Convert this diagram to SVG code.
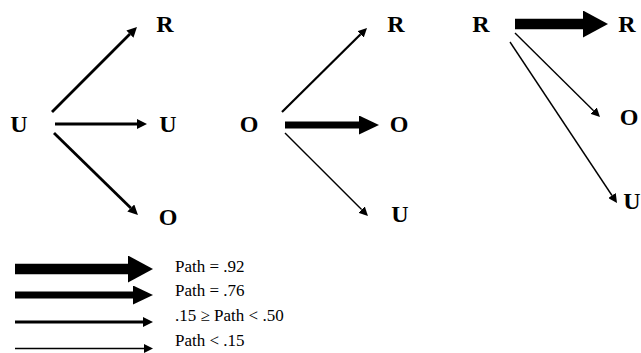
<svg xmlns="http://www.w3.org/2000/svg" width="641" height="353" viewBox="0 0 641 353">
<style>
.n{font-family:"Liberation Serif","Times New Roman",serif;font-weight:bold;font-size:24px;fill:#000;text-anchor:middle}
.lg{font-family:"Liberation Serif","Times New Roman",serif;font-size:17px;fill:#000}
.c{stroke:#000;fill:none}
.w1{stroke-width:1.4}
.w2{stroke-width:2.8}
.w3{stroke-width:7}
.w4{stroke-width:10.5}
</style>
<defs>
<marker id="h1" markerUnits="userSpaceOnUse" markerWidth="9" markerHeight="9" refX="0" refY="4.5" orient="auto"><path d="M0,0 L9,4.5 L0,9 Z" fill="#000"/></marker>
<marker id="h2" markerUnits="userSpaceOnUse" markerWidth="10" markerHeight="10" refX="0" refY="5" orient="auto"><path d="M0,0 L10,5 L0,10 Z" fill="#000"/></marker>
<marker id="h3" markerUnits="userSpaceOnUse" markerWidth="20" markerHeight="19" refX="0" refY="9.5" orient="auto"><path d="M0,0 L20,9.5 L0,19 Z" fill="#000"/></marker>
<marker id="h4" markerUnits="userSpaceOnUse" markerWidth="25" markerHeight="27" refX="0" refY="13.5" orient="auto"><path d="M0,0 L25,13.5 L0,27 Z" fill="#000"/></marker>
</defs>
<rect width="641" height="353" fill="#fff"/>
<g id="nodes">
<g id="n-u-src"><text class="n" x="19" y="132">U</text></g>
<g id="n-u-r"><text class="n" x="165" y="32">R</text></g>
<g id="n-u-u"><text class="n" x="168" y="132">U</text></g>
<g id="n-u-o"><text class="n" x="168" y="225">O</text></g>
<g id="n-o-src"><text class="n" x="249" y="132">O</text></g>
<g id="n-o-r"><text class="n" x="396" y="32">R</text></g>
<g id="n-o-o"><text class="n" x="399" y="132">O</text></g>
<g id="n-o-u"><text class="n" x="400" y="222">U</text></g>
<g id="n-r-src"><text class="n" x="481" y="32">R</text></g>
<g id="n-r-r"><text class="n" x="627" y="32">R</text></g>
<g id="n-r-o"><text class="n" x="629" y="125">O</text></g>
<g id="n-r-u"><text class="n" x="632" y="209">U</text></g>
</g>
<g id="connectors">
<line class="c w2" x1="52" y1="112" x2="129.9" y2="34.1" marker-end="url(#h2)"/>
<line class="c w2" x1="55" y1="124" x2="137" y2="124" marker-end="url(#h2)"/>
<line class="c w2" x1="54" y1="133" x2="130.8" y2="208" marker-end="url(#h2)"/>
<line class="c w2" x1="282" y1="112" x2="360.6" y2="34.3" marker-end="url(#h1)" style="stroke-width:2.2"/>
<line class="c w3" x1="285" y1="125" x2="359" y2="125" marker-end="url(#h3)"/>
<line class="c w1" x1="285" y1="133" x2="361.6" y2="209.6" marker-end="url(#h1)"/>
<line class="c w4" x1="515" y1="24" x2="583" y2="24" marker-end="url(#h4)"/>
<line class="c w1" x1="515" y1="33" x2="593.6" y2="110.7" marker-end="url(#h1)"/>
<line class="c w1" x1="510" y1="42" x2="612" y2="195.5" marker-end="url(#h1)"/>
</g>
<g id="legend">
<line class="c w4" x1="15" y1="269" x2="128" y2="269" marker-end="url(#h4)"/>
<line class="c w3" x1="15" y1="295" x2="133" y2="295" marker-end="url(#h3)"/>
<line class="c w2" x1="15" y1="322" x2="143" y2="322" marker-end="url(#h2)"/>
<line class="c w1" x1="15" y1="348.5" x2="144" y2="348.5" marker-end="url(#h1)"/>
<text class="lg" x="175" y="272">Path = .92</text>
<text class="lg" x="175" y="296">Path = .76</text>
<text class="lg" x="175" y="321">.15 ≥ Path &lt; .50</text>
<text class="lg" x="175" y="346">Path &lt; .15</text>
</g>
</svg>
